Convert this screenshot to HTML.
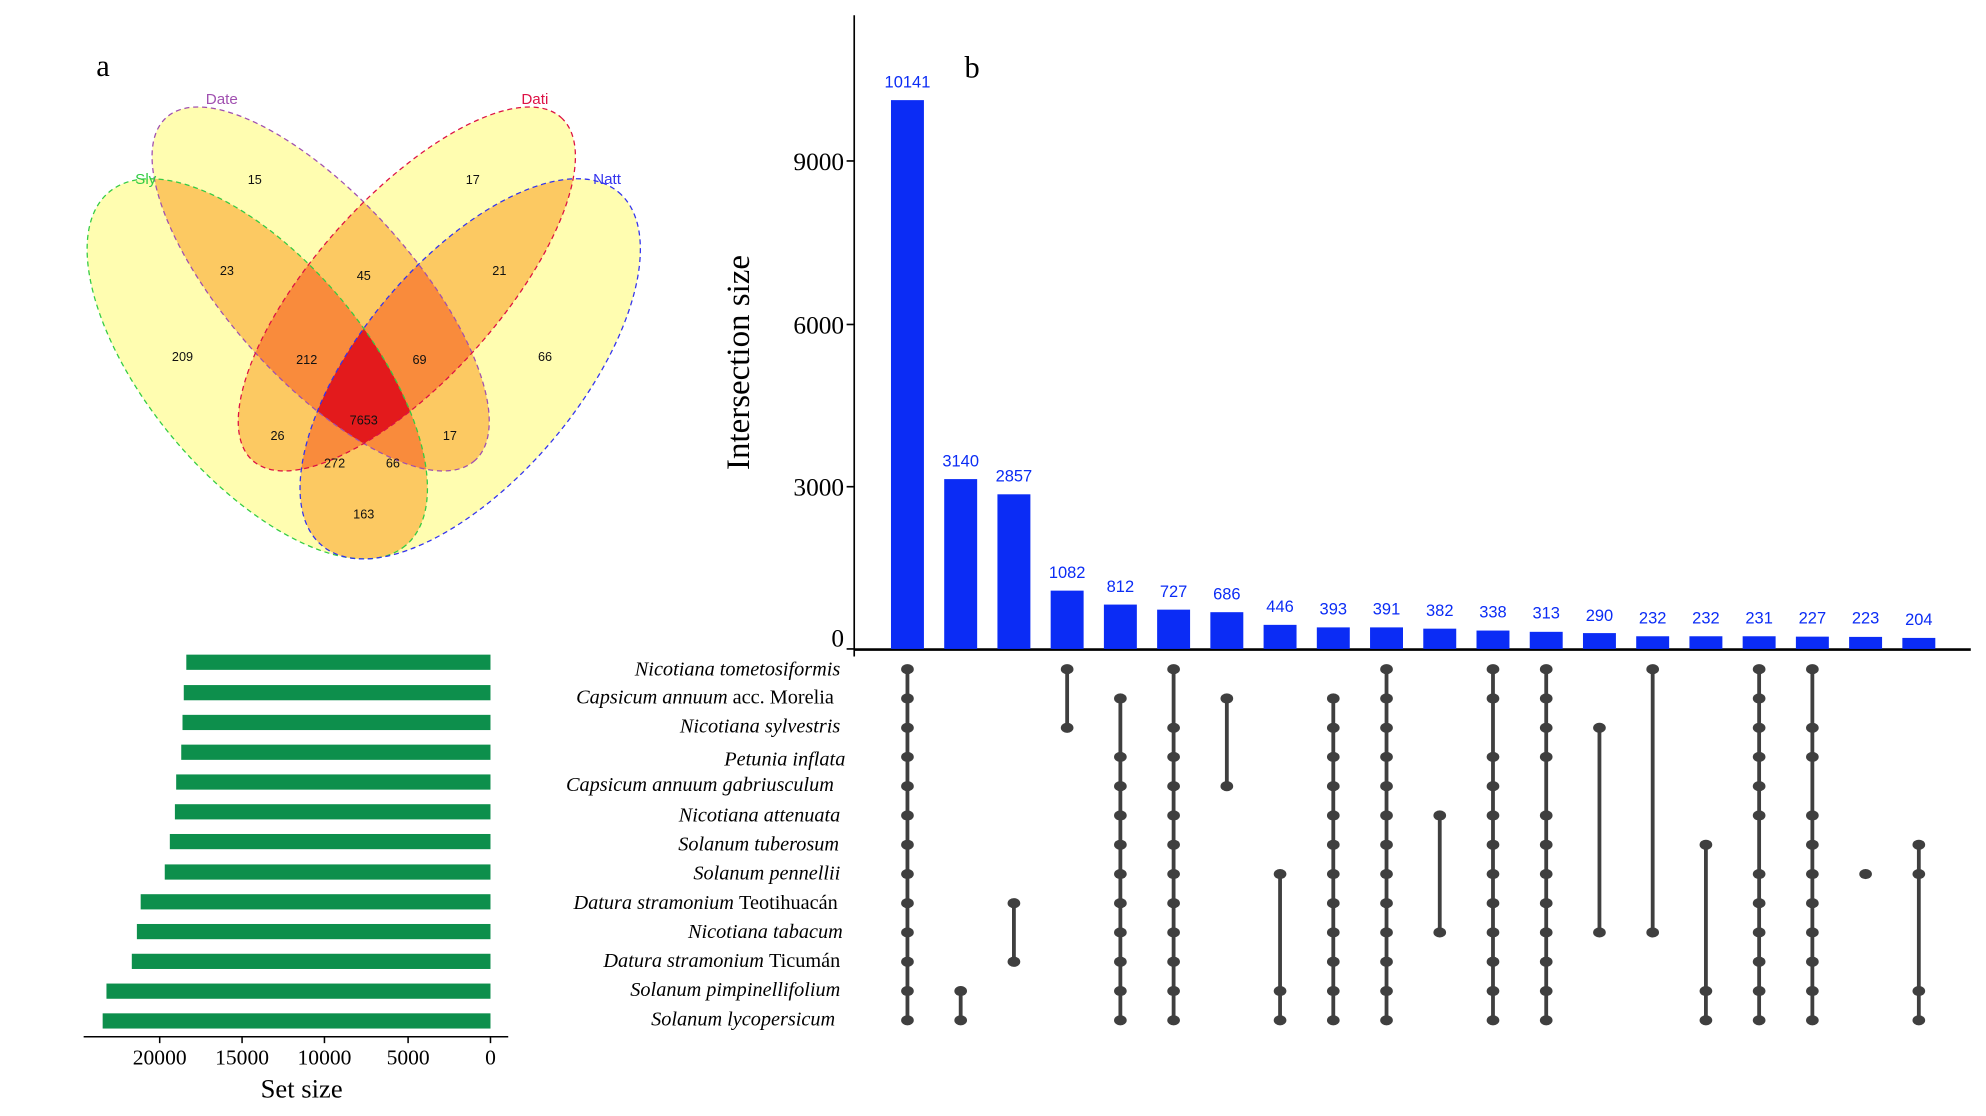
<!DOCTYPE html>
<html><head><meta charset="utf-8"><style>html,body{margin:0;padding:0;background:#fff}svg{display:block}</style></head>
<body>
<svg width="1986" height="1116" viewBox="0 0 1567 880.5" preserveAspectRatio="none" xmlns="http://www.w3.org/2000/svg" xmlns:xlink="http://www.w3.org/1999/xlink">
<defs>
<clipPath id="cS"><ellipse cx="0" cy="0" rx="182" ry="86" transform="translate(203 291) rotate(50)"/></clipPath>
<clipPath id="cD"><ellipse cx="0" cy="0" rx="182" ry="72" transform="translate(253 228) rotate(48)"/></clipPath>
<clipPath id="cT"><ellipse cx="0" cy="0" rx="182" ry="72" transform="translate(321 228) rotate(-48)"/></clipPath>
<clipPath id="cN"><ellipse cx="0" cy="0" rx="182" ry="86" transform="translate(371 291) rotate(-50)"/></clipPath>
<ellipse id="d" cx="0" cy="0" rx="5" ry="4" fill="#3f3f3f"/>
</defs>

<!-- Venn -->
<g>
<rect x="0" y="0" width="560" height="500" fill="#fffdb0" clip-path="url(#cS)"/>
<rect x="0" y="0" width="560" height="500" fill="#fffdb0" clip-path="url(#cD)"/>
<rect x="0" y="0" width="560" height="500" fill="#fffdb0" clip-path="url(#cT)"/>
<rect x="0" y="0" width="560" height="500" fill="#fffdb0" clip-path="url(#cN)"/>
<g fill="#fcc962">
<g clip-path="url(#cS)"><rect width="560" height="500" clip-path="url(#cD)"/><rect width="560" height="500" clip-path="url(#cT)"/><rect width="560" height="500" clip-path="url(#cN)"/></g>
<g clip-path="url(#cD)"><rect width="560" height="500" clip-path="url(#cT)"/><rect width="560" height="500" clip-path="url(#cN)"/></g>
<g clip-path="url(#cT)"><rect width="560" height="500" clip-path="url(#cN)"/></g>
</g>
<g fill="#f98b3c">
<g clip-path="url(#cS)"><g clip-path="url(#cD)"><rect width="560" height="500" clip-path="url(#cT)"/><rect width="560" height="500" clip-path="url(#cN)"/></g></g>
<g clip-path="url(#cS)"><g clip-path="url(#cT)"><rect width="560" height="500" clip-path="url(#cN)"/></g></g>
<g clip-path="url(#cD)"><g clip-path="url(#cT)"><rect width="560" height="500" clip-path="url(#cN)"/></g></g>
</g>
<g fill="#e31a1c">
<g clip-path="url(#cS)"><g clip-path="url(#cD)"><g clip-path="url(#cT)"><rect width="560" height="500" clip-path="url(#cN)"/></g></g></g>
</g>
<g fill="none" stroke-width="1" stroke-dasharray="4 3">
<ellipse cx="0" cy="0" rx="182" ry="86" transform="translate(203 291) rotate(50)" stroke="#33cc44"/>
<ellipse cx="0" cy="0" rx="182" ry="72" transform="translate(253 228) rotate(48)" stroke="#a050b0"/>
<ellipse cx="0" cy="0" rx="182" ry="72" transform="translate(321 228) rotate(-48)" stroke="#dd1144"/>
<ellipse cx="0" cy="0" rx="182" ry="86" transform="translate(371 291) rotate(-50)" stroke="#3333ee"/>
</g>
</g>
<g font-family="Liberation Sans, sans-serif" font-size="10" text-anchor="middle" fill="#111">
<text x="201" y="145">15</text><text x="373" y="145">17</text>
<text x="179" y="217">23</text><text x="287" y="221">45</text><text x="394" y="217">21</text>
<text x="144" y="285">209</text><text x="242" y="287">212</text><text x="331" y="287">69</text><text x="430" y="285">66</text>
<text x="287" y="335">7653</text><text x="219" y="347">26</text><text x="355" y="347">17</text>
<text x="264" y="369">272</text><text x="310" y="369">66</text><text x="287" y="409">163</text>
</g>
<g font-family="Liberation Sans, sans-serif" font-size="12" text-anchor="middle">
<text x="175" y="82" fill="#a050b0">Date</text>
<text x="422" y="82" fill="#dd1144">Dati</text>
<text x="115" y="145" fill="#33cc44">Sly</text>
<text x="479" y="145" fill="#3333ee">Natt</text>
</g>
<text x="76" y="60" font-family="Liberation Serif, serif" font-size="24">a</text>
<text x="761" y="61" font-family="Liberation Serif, serif" font-size="24">b</text>

<!-- Upset bars -->
<g stroke="#000" stroke-width="1.3">
<line x1="674" y1="12" x2="674" y2="518"/>
<line x1="674" y1="512.5" x2="1555" y2="512.5" stroke-width="2"/>
<line x1="668" y1="127" x2="674" y2="127"/><line x1="668" y1="256" x2="674" y2="256"/>
<line x1="668" y1="384" x2="674" y2="384"/><line x1="668" y1="512" x2="674" y2="512"/>
</g>
<g font-family="Liberation Serif, serif" font-size="20" text-anchor="end" fill="#000">
<text x="666" y="134">9000</text><text x="666" y="263">6000</text><text x="666" y="391">3000</text><text x="666" y="510">0</text>
</g>
<text transform="translate(591 286) rotate(-90)" font-family="Liberation Serif, serif" font-size="26" text-anchor="middle">Intersection size</text>
<g fill="#0b2cf5">
<rect x="703" y="79" width="26" height="433"/>
<rect x="745" y="378" width="26" height="134"/>
<rect x="787" y="390" width="26" height="122"/>
<rect x="829" y="466" width="26" height="46"/>
<rect x="871" y="477" width="26" height="35"/>
<rect x="913" y="481" width="26" height="31"/>
<rect x="955" y="483" width="26" height="29"/>
<rect x="997" y="493" width="26" height="19"/>
<rect x="1039" y="495" width="26" height="17"/>
<rect x="1081" y="495" width="26" height="17"/>
<rect x="1123" y="496" width="26" height="16"/>
<rect x="1165" y="497.5" width="26" height="14.5"/>
<rect x="1207" y="498.5" width="26" height="13.5"/>
<rect x="1249" y="499.5" width="26" height="12.5"/>
<rect x="1291" y="502" width="26" height="10"/>
<rect x="1333" y="502" width="26" height="10"/>
<rect x="1375" y="502" width="26" height="10"/>
<rect x="1417" y="502.3" width="26" height="9.7"/>
<rect x="1459" y="502.5" width="26" height="9.5"/>
<rect x="1501" y="503.3" width="26" height="8.7"/>
</g>
<g font-family="Liberation Sans, sans-serif" font-size="13" fill="#0b2cf5" text-anchor="middle">
<text x="716" y="69">10141</text><text x="758" y="368">3140</text><text x="800" y="380">2857</text>
<text x="842" y="456">1082</text><text x="884" y="467">812</text><text x="926" y="471">727</text>
<text x="968" y="473">686</text><text x="1010" y="483">446</text><text x="1052" y="485">393</text>
<text x="1094" y="485">391</text><text x="1136" y="486">382</text><text x="1178" y="487">338</text>
<text x="1220" y="488">313</text><text x="1262" y="490">290</text><text x="1304" y="492">232</text>
<text x="1346" y="492">232</text><text x="1388" y="492">231</text><text x="1430" y="492">227</text>
<text x="1472" y="492">223</text><text x="1514" y="493">204</text>
</g>

<!-- matrix lines -->
<g stroke="#3f3f3f" stroke-width="3">
<line x1="716" y1="528" x2="716" y2="805"/>
<line x1="758" y1="781.9" x2="758" y2="805"/>
<line x1="800" y1="712.6" x2="800" y2="758.8"/>
<line x1="842" y1="528" x2="842" y2="574.2"/>
<line x1="884" y1="551.1" x2="884" y2="805"/>
<line x1="926" y1="528" x2="926" y2="805"/>
<line x1="968" y1="551.1" x2="968" y2="620.3"/>
<line x1="1010" y1="689.6" x2="1010" y2="805"/>
<line x1="1052" y1="551.1" x2="1052" y2="805"/>
<line x1="1094" y1="528" x2="1094" y2="805"/>
<line x1="1136" y1="643.4" x2="1136" y2="735.7"/>
<line x1="1178" y1="528" x2="1178" y2="805"/>
<line x1="1220" y1="528" x2="1220" y2="805"/>
<line x1="1262" y1="574.2" x2="1262" y2="735.7"/>
<line x1="1304" y1="528" x2="1304" y2="735.7"/>
<line x1="1346" y1="666.5" x2="1346" y2="805"/>
<line x1="1388" y1="528" x2="1388" y2="805"/>
<line x1="1430" y1="528" x2="1430" y2="805"/>
<line x1="1514" y1="666.5" x2="1514" y2="805"/>
</g>
<!-- dots -->
<g>
<use xlink:href="#d" x="716" y="528"/><use xlink:href="#d" x="716" y="551.1"/><use xlink:href="#d" x="716" y="574.2"/><use xlink:href="#d" x="716" y="597.2"/><use xlink:href="#d" x="716" y="620.3"/><use xlink:href="#d" x="716" y="643.4"/><use xlink:href="#d" x="716" y="666.5"/><use xlink:href="#d" x="716" y="689.6"/><use xlink:href="#d" x="716" y="712.6"/><use xlink:href="#d" x="716" y="735.7"/><use xlink:href="#d" x="716" y="758.8"/><use xlink:href="#d" x="716" y="781.9"/><use xlink:href="#d" x="716" y="805"/>
<use xlink:href="#d" x="758" y="781.9"/><use xlink:href="#d" x="758" y="805"/>
<use xlink:href="#d" x="800" y="712.6"/><use xlink:href="#d" x="800" y="758.8"/>
<use xlink:href="#d" x="842" y="528"/><use xlink:href="#d" x="842" y="574.2"/>
<use xlink:href="#d" x="884" y="551.1"/><use xlink:href="#d" x="884" y="597.2"/><use xlink:href="#d" x="884" y="620.3"/><use xlink:href="#d" x="884" y="643.4"/><use xlink:href="#d" x="884" y="666.5"/><use xlink:href="#d" x="884" y="689.6"/><use xlink:href="#d" x="884" y="712.6"/><use xlink:href="#d" x="884" y="735.7"/><use xlink:href="#d" x="884" y="758.8"/><use xlink:href="#d" x="884" y="781.9"/><use xlink:href="#d" x="884" y="805"/>
<use xlink:href="#d" x="926" y="528"/><use xlink:href="#d" x="926" y="574.2"/><use xlink:href="#d" x="926" y="597.2"/><use xlink:href="#d" x="926" y="620.3"/><use xlink:href="#d" x="926" y="643.4"/><use xlink:href="#d" x="926" y="666.5"/><use xlink:href="#d" x="926" y="689.6"/><use xlink:href="#d" x="926" y="712.6"/><use xlink:href="#d" x="926" y="735.7"/><use xlink:href="#d" x="926" y="758.8"/><use xlink:href="#d" x="926" y="781.9"/><use xlink:href="#d" x="926" y="805"/>
<use xlink:href="#d" x="968" y="551.1"/><use xlink:href="#d" x="968" y="620.3"/>
<use xlink:href="#d" x="1010" y="689.6"/><use xlink:href="#d" x="1010" y="781.9"/><use xlink:href="#d" x="1010" y="805"/>
<use xlink:href="#d" x="1052" y="551.1"/><use xlink:href="#d" x="1052" y="574.2"/><use xlink:href="#d" x="1052" y="597.2"/><use xlink:href="#d" x="1052" y="620.3"/><use xlink:href="#d" x="1052" y="643.4"/><use xlink:href="#d" x="1052" y="666.5"/><use xlink:href="#d" x="1052" y="689.6"/><use xlink:href="#d" x="1052" y="712.6"/><use xlink:href="#d" x="1052" y="735.7"/><use xlink:href="#d" x="1052" y="758.8"/><use xlink:href="#d" x="1052" y="781.9"/><use xlink:href="#d" x="1052" y="805"/>
<use xlink:href="#d" x="1094" y="528"/><use xlink:href="#d" x="1094" y="551.1"/><use xlink:href="#d" x="1094" y="574.2"/><use xlink:href="#d" x="1094" y="597.2"/><use xlink:href="#d" x="1094" y="620.3"/><use xlink:href="#d" x="1094" y="643.4"/><use xlink:href="#d" x="1094" y="666.5"/><use xlink:href="#d" x="1094" y="689.6"/><use xlink:href="#d" x="1094" y="712.6"/><use xlink:href="#d" x="1094" y="735.7"/><use xlink:href="#d" x="1094" y="758.8"/><use xlink:href="#d" x="1094" y="781.9"/><use xlink:href="#d" x="1094" y="805"/>
<use xlink:href="#d" x="1136" y="643.4"/><use xlink:href="#d" x="1136" y="735.7"/>
<use xlink:href="#d" x="1178" y="528"/><use xlink:href="#d" x="1178" y="551.1"/><use xlink:href="#d" x="1178" y="597.2"/><use xlink:href="#d" x="1178" y="620.3"/><use xlink:href="#d" x="1178" y="643.4"/><use xlink:href="#d" x="1178" y="666.5"/><use xlink:href="#d" x="1178" y="689.6"/><use xlink:href="#d" x="1178" y="712.6"/><use xlink:href="#d" x="1178" y="735.7"/><use xlink:href="#d" x="1178" y="758.8"/><use xlink:href="#d" x="1178" y="781.9"/><use xlink:href="#d" x="1178" y="805"/>
<use xlink:href="#d" x="1220" y="528"/><use xlink:href="#d" x="1220" y="551.1"/><use xlink:href="#d" x="1220" y="574.2"/><use xlink:href="#d" x="1220" y="597.2"/><use xlink:href="#d" x="1220" y="643.4"/><use xlink:href="#d" x="1220" y="666.5"/><use xlink:href="#d" x="1220" y="689.6"/><use xlink:href="#d" x="1220" y="712.6"/><use xlink:href="#d" x="1220" y="735.7"/><use xlink:href="#d" x="1220" y="758.8"/><use xlink:href="#d" x="1220" y="781.9"/><use xlink:href="#d" x="1220" y="805"/>
<use xlink:href="#d" x="1262" y="574.2"/><use xlink:href="#d" x="1262" y="735.7"/>
<use xlink:href="#d" x="1304" y="528"/><use xlink:href="#d" x="1304" y="735.7"/>
<use xlink:href="#d" x="1346" y="666.5"/><use xlink:href="#d" x="1346" y="781.9"/><use xlink:href="#d" x="1346" y="805"/>
<use xlink:href="#d" x="1388" y="528"/><use xlink:href="#d" x="1388" y="551.1"/><use xlink:href="#d" x="1388" y="574.2"/><use xlink:href="#d" x="1388" y="597.2"/><use xlink:href="#d" x="1388" y="620.3"/><use xlink:href="#d" x="1388" y="643.4"/><use xlink:href="#d" x="1388" y="689.6"/><use xlink:href="#d" x="1388" y="712.6"/><use xlink:href="#d" x="1388" y="735.7"/><use xlink:href="#d" x="1388" y="758.8"/><use xlink:href="#d" x="1388" y="781.9"/><use xlink:href="#d" x="1388" y="805"/>
<use xlink:href="#d" x="1430" y="528"/><use xlink:href="#d" x="1430" y="574.2"/><use xlink:href="#d" x="1430" y="597.2"/><use xlink:href="#d" x="1430" y="643.4"/><use xlink:href="#d" x="1430" y="666.5"/><use xlink:href="#d" x="1430" y="689.6"/><use xlink:href="#d" x="1430" y="712.6"/><use xlink:href="#d" x="1430" y="735.7"/><use xlink:href="#d" x="1430" y="758.8"/><use xlink:href="#d" x="1430" y="781.9"/><use xlink:href="#d" x="1430" y="805"/>
<use xlink:href="#d" x="1472" y="689.6"/>
<use xlink:href="#d" x="1514" y="666.5"/><use xlink:href="#d" x="1514" y="689.6"/><use xlink:href="#d" x="1514" y="781.9"/><use xlink:href="#d" x="1514" y="805"/>
</g>

<!-- row labels -->
<g font-family="Liberation Serif, serif" font-size="16" text-anchor="end" fill="#000" font-style="italic">
<text x="663" y="533">Nicotiana tometosiformis</text>
<text x="658" y="555">Capsicum annuum <tspan font-style="normal">acc. Morelia</tspan></text>
<text x="663" y="578">Nicotiana sylvestris</text>
<text x="667" y="604">Petunia inflata</text>
<text x="658" y="624">Capsicum annuum gabriusculum</text>
<text x="663" y="648">Nicotiana attenuata</text>
<text x="662" y="671">Solanum tuberosum</text>
<text x="663" y="694">Solanum pennellii</text>
<text x="661" y="717">Datura stramonium <tspan font-style="normal">Teotihuacán</tspan></text>
<text x="665" y="740">Nicotiana tabacum</text>
<text x="663" y="763">Datura stramonium <tspan font-style="normal">Ticumán</tspan></text>
<text x="663" y="786">Solanum pimpinellifolium</text>
<text x="659" y="809">Solanum lycopersicum</text>
</g>

<!-- set size bars -->
<g fill="#0d8f4c">
<rect x="147" y="516.5" width="240" height="12"/>
<rect x="145" y="540.5" width="242" height="12"/>
<rect x="144" y="564" width="243" height="12"/>
<rect x="143" y="587.5" width="244" height="12"/>
<rect x="139" y="611" width="248" height="12"/>
<rect x="138" y="634.5" width="249" height="12"/>
<rect x="134" y="658" width="253" height="12"/>
<rect x="130" y="682" width="257" height="12"/>
<rect x="111" y="705.5" width="276" height="12"/>
<rect x="108" y="729" width="279" height="12"/>
<rect x="104" y="752.5" width="283" height="12"/>
<rect x="84" y="776" width="303" height="12"/>
<rect x="81" y="799.5" width="306" height="12"/>
</g>
<g stroke="#000" stroke-width="1.2">
<line x1="66" y1="818" x2="401" y2="818"/>
<line x1="126" y1="818" x2="126" y2="823"/><line x1="191" y1="818" x2="191" y2="823"/>
<line x1="256" y1="818" x2="256" y2="823"/><line x1="322" y1="818" x2="322" y2="823"/>
<line x1="387" y1="818" x2="387" y2="823"/>
</g>
<g font-family="Liberation Serif, serif" font-size="17" text-anchor="middle" fill="#000">
<text x="126" y="840">20000</text><text x="191" y="840">15000</text><text x="256" y="840">10000</text><text x="322" y="840">5000</text><text x="387" y="840">0</text>
</g>
<text x="238" y="866" font-family="Liberation Serif, serif" font-size="21" text-anchor="middle">Set size</text>
</svg>
</body></html>
